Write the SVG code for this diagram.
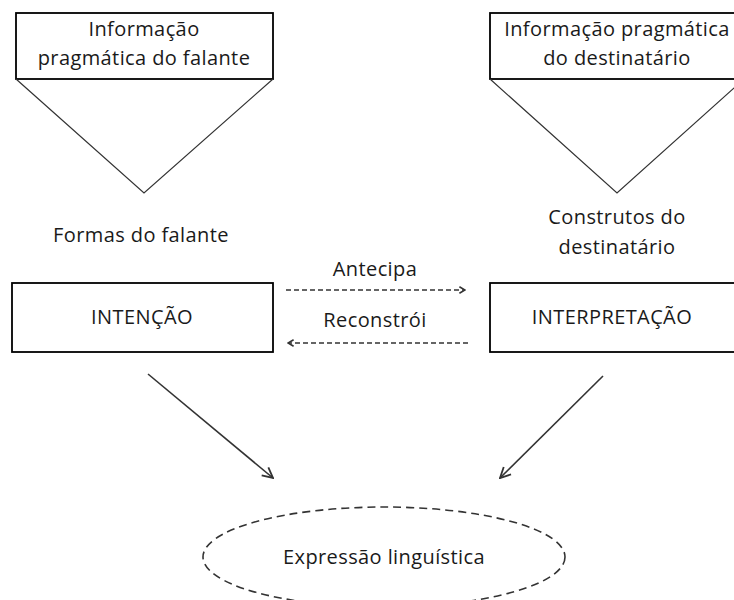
<svg xmlns="http://www.w3.org/2000/svg" width="734" height="600" viewBox="0 0 734 600">
<defs>
<style>
.t{font-family:"Open Sans","Noto Sans",sans-serif;font-size:20px;letter-spacing:0.4px;fill:#1a1a1a;text-anchor:middle}
.box{fill:#fff;stroke:#000;stroke-width:1.8}
.tri{fill:none;stroke:#333;stroke-width:1.2}
.dash{fill:none;stroke:#333;stroke-width:1.6;stroke-dasharray:5,3}
.sol{fill:none;stroke:#333;stroke-width:1.6}
</style>
<marker id="ah" viewBox="0 0 10 10" refX="9" refY="5" markerWidth="8" markerHeight="8" orient="auto" markerUnits="userSpaceOnUse">
<path d="M2,1 L9,5 L2,9" fill="none" stroke="#333" stroke-width="2"/>
</marker>
<marker id="ah2" viewBox="0 0 10 10" refX="9" refY="5" markerWidth="13" markerHeight="13" orient="auto" markerUnits="userSpaceOnUse">
<path d="M1,1 L9,5 L1,9" fill="none" stroke="#333" stroke-width="1.4"/>
</marker>
</defs>
<g id="info-falante">
<rect class="box" x="16" y="13" width="257" height="66"/>
<path class="tri" d="M16,79 L144,193 L273,79"/>
<text class="t" x="144" y="36">Informação</text>
<text class="t" x="144" y="65">pragmática do falante</text>
</g>
<g id="info-destinatario">
<rect class="box" x="490" y="13" width="254" height="66"/>
<path class="tri" d="M490,79 L617,193 L744,79"/>
<text class="t" x="617" y="36">Informação pragmática</text>
<text class="t" x="617" y="65">do destinatário</text>
</g>
<g id="formas">
<text class="t" x="141" y="242">Formas do falante</text>
</g>
<g id="construtos">
<text class="t" x="617" y="224">Construtos do</text>
<text class="t" x="617" y="254">destinatário</text>
</g>
<g id="intencao">
<rect class="box" x="12" y="283" width="261" height="69"/>
<text class="t" x="142" y="324">INTENÇÃO</text>
</g>
<g id="interpretacao">
<rect class="box" x="490" y="283" width="254" height="69"/>
<text class="t" x="612" y="324">INTERPRETAÇÃO</text>
</g>
<g id="expressao">
<ellipse cx="384" cy="557" rx="181" ry="50" fill="none" stroke="#333" stroke-width="1.6" stroke-dasharray="8,5"/>
<text class="t" x="384" y="564">Expressão linguística</text>
</g>
<g id="connectors">
<path class="dash" d="M286,290 L465,290" marker-end="url(#ah)"/>
<text class="t" x="375" y="276">Antecipa</text>
<path class="dash" d="M468,343 L288,343" marker-end="url(#ah)"/>
<text class="t" x="375" y="327">Reconstrói</text>
<path class="sol" d="M148,374 L273,478" marker-end="url(#ah2)"/>
<path class="sol" d="M603,376 L500,478" marker-end="url(#ah2)"/>
</g>
</svg>
